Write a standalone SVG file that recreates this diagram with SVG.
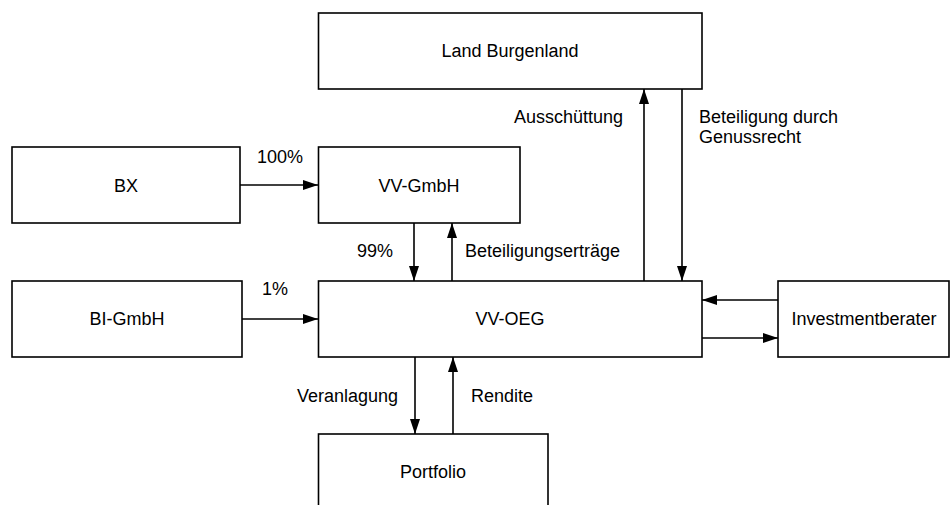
<svg xmlns="http://www.w3.org/2000/svg" width="950" height="505" viewBox="0 0 950 505">
<style>
.box{fill:#fff;stroke:#000;stroke-width:1.6}
.t{font-family:"Liberation Sans",Arial,sans-serif;font-size:18px;fill:#000}
.c{text-anchor:middle}
.e{text-anchor:end}
.ln{stroke:#000;stroke-width:1.6;fill:none;marker-end:url(#ah)}
</style>
<defs>
<marker id="ah" markerUnits="userSpaceOnUse" markerWidth="15" markerHeight="10" refX="15" refY="5" orient="auto">
<path d="M0,0 L15,5 L0,10 z" fill="#000"/>
</marker>
</defs>
<rect width="950" height="505" fill="#fff"/>
<g id="land"><rect class="box" x="318.5" y="13" width="383.5" height="76"/><text class="t c" x="510" y="57">Land Burgenland</text></g>
<g id="bx"><rect class="box" x="12" y="147" width="228" height="76"/><text class="t c" x="126" y="192">BX</text></g>
<g id="vvgmbh"><rect class="box" x="318.5" y="147" width="201.5" height="76"/><text class="t c" x="419" y="192">VV-GmbH</text></g>
<g id="bigmbh"><rect class="box" x="12" y="281" width="230" height="76"/><text class="t c" x="127" y="325">BI-GmbH</text></g>
<g id="vvoeg"><rect class="box" x="318.5" y="281" width="383.5" height="76"/><text class="t c" x="510" y="325">VV-OEG</text></g>
<g id="invest"><rect class="box" x="778" y="281" width="171" height="76"/><text class="t c" x="864" y="325">Investmentberater</text></g>
<g id="portfolio"><rect class="box" x="318.5" y="434" width="229.5" height="90"/><text class="t c" x="433" y="478">Portfolio</text></g>
<g id="connectors">
<path class="ln" d="M240,185 H318"/>
<path class="ln" d="M242,319 H318"/>
<path class="ln" d="M414,223 V281"/>
<path class="ln" d="M452,281 V223"/>
<path class="ln" d="M644,281 V89"/>
<path class="ln" d="M682,89 V281"/>
<path class="ln" d="M778,300 H702"/>
<path class="ln" d="M702,338 H778"/>
<path class="ln" d="M415,357 V434"/>
<path class="ln" d="M453,434 V357"/>
<text class="t" x="257" y="163">100%</text>
<text class="t" x="357" y="257">99%</text>
<text class="t" x="262" y="295">1%</text>
<text class="t" x="465" y="257">Beteiligungserträge</text>
<text class="t e" x="623" y="123">Ausschüttung</text>
<text class="t" x="699" y="123">Beteiligung durch</text>
<text class="t" x="699" y="143">Genussrecht</text>
<text class="t e" x="398" y="402">Veranlagung</text>
<text class="t" x="471" y="402">Rendite</text>
</g>
</svg>
